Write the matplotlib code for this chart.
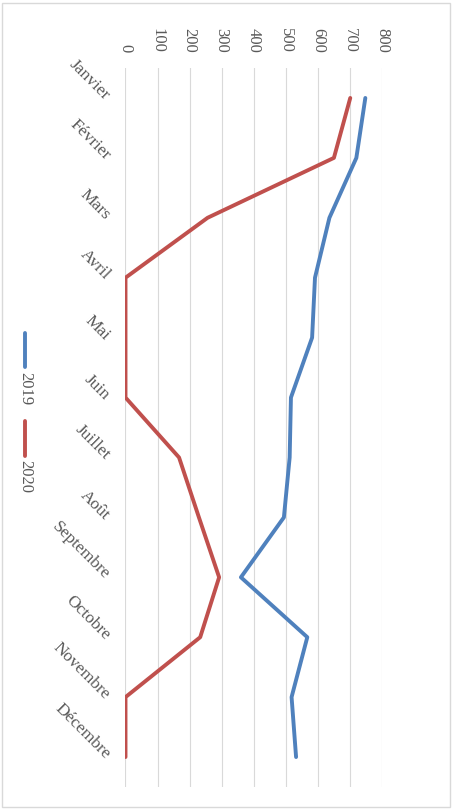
import matplotlib.pyplot as plt
from matplotlib.lines import Line2D
from matplotlib.patches import Rectangle

mois = ['Janvier', 'Février', 'Mars', 'Avril', 'Mai', 'Juin', 'Juillet',
        'Août', 'Septembre', 'Octobre', 'Novembre', 'Décembre']
v2019 = [748, 720, 636, 591, 582, 516, 512, 494, 360, 567, 518, 532]
v2020 = [701, 650, 256, 0, 0, 0, 167, 229, 292, 233, 0, 0]
ticks_val = [0, 100, 200, 300, 400, 500, 600, 700, 800]

bleu = '#4F81BD'
rouge = '#C0504D'
gris = '#595959'

plt.rcParams['font.family'] = ['Liberation Serif', 'DejaVu Serif']

fig = plt.figure(figsize=(4.54, 8.09), dpi=100)
ax = fig.add_axes([125.5/454, 1 - 787/809, 256.5/454, 719/809])

pos = list(range(len(mois)))
ax.plot(v2019, pos, color=bleu, lw=2.8, solid_capstyle='round', solid_joinstyle='round', zorder=3)
ax.plot(v2020, pos, color=rouge, lw=2.8, solid_capstyle='round', solid_joinstyle='round', zorder=3)

ax.set_xlim(0, 800)
ax.set_ylim(11.5, -0.5)
ax.set_xticks(ticks_val)
ax.set_xticklabels([str(t) for t in ticks_val])
ax.xaxis.tick_top()
ax.tick_params(axis='x', length=0, pad=11, labelsize=12, labelcolor=gris, labelrotation=-90)
ax.grid(axis='x', color='#D9D9D9', lw=0.8)
ax.set_axisbelow(True)

ax.set_yticks(pos)
ax.set_yticklabels(mois)
ax.tick_params(axis='y', length=0, pad=13, labelsize=12.5, labelcolor=gris)
for lab in ax.get_yticklabels():
    lab.set_rotation(-45)
    lab.set_rotation_mode('anchor')
    lab.set_ha('right')
    lab.set_va('center')

for s in ax.spines.values():
    s.set_visible(False)

# légende verticale
fig.add_artist(Line2D([25/454, 25/454], [1 - 333/809, 1 - 367/809], color=bleu, lw=2.8, solid_capstyle='round'))
fig.text(25/454, 1 - 372/809, '2019', rotation=-90, ha='center', va='top', fontsize=12, color=gris)
fig.add_artist(Line2D([25/454, 25/454], [1 - 421/809, 1 - 456/809], color=rouge, lw=2.8, solid_capstyle='round'))
fig.text(25/454, 1 - 460/809, '2020', rotation=-90, ha='center', va='top', fontsize=12, color=gris)

fig.add_artist(Rectangle((2/454, 2/809), 448/454, 804/809, fill=False, edgecolor='#D9D9D9', lw=1,
                         transform=fig.transFigure))

fig.savefig('out.png', dpi=100)
